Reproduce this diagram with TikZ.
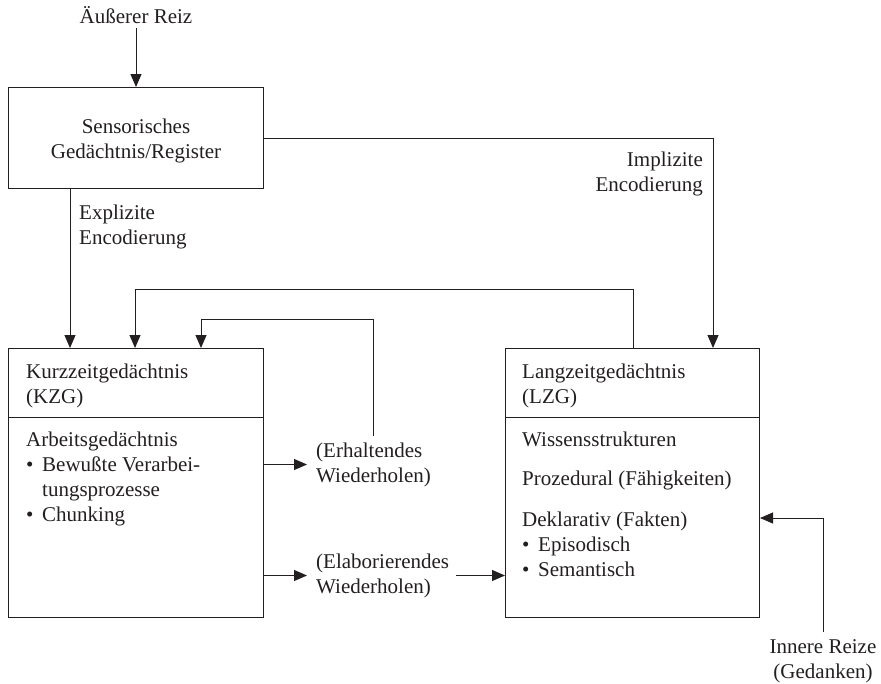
\documentclass[tikz,border=0pt]{standalone}
\usepackage{fontspec}
\setmainfont{Liberation Serif}
\usetikzlibrary{arrows.meta,calc}
\definecolor{ink}{RGB}{35,31,32}
% multi-line text whose baseline is that of its first line
\newcommand\stackL[1]{\begin{tabular}[t]{@{}l@{}}#1\end{tabular}}
\newcommand\stackC[1]{\begin{tabular}[t]{@{}c@{}}#1\end{tabular}}
\newcommand\stackR[1]{\begin{tabular}[t]{@{}r@{}}#1\end{tabular}}
\newcommand\bul{\makebox[16pt][l]{\textbullet}}
\begin{document}
\begin{tikzpicture}[x=1pt,y=-1pt,
  every node/.style={font=\fontsize{21}{25}\selectfont, text=ink},
  box/.style={draw=ink, line width=1pt, minimum width=#1, inner sep=0pt, anchor=north west},
  txt/.style={inner sep=3pt},
  arr/.style={draw=ink, line width=1pt, -{Triangle[length=13pt,width=11pt]}},
  ln/.style={draw=ink, line width=1pt}]
\useasboundingbox (0,0) rectangle (881,683);

% boxes
\node[box=255pt, minimum height=101pt] (sens) at (8,87) {};
\node[box=255pt, minimum height=269pt] (kzg) at (8,348) {};
\node[box=254pt, minimum height=269pt] (lzg) at (505,348) {};
\draw[ln] ($(kzg.north west)+(0,69)$) -- ($(kzg.north east)+(0,69)$);
\draw[ln] ($(lzg.north west)+(0,69)$) -- ($(lzg.north east)+(0,69)$);

% texts
\node[txt, anchor=base] (aeuss) at (136,23) {Äußerer Reiz};
\node[txt, anchor=base] (senstxt) at (136,133) {\stackC{Sensorisches\\Gedächtnis/Register}};
\node[txt, anchor=base west] (expl) at (76,219) {\stackL{Explizite\\Encodierung}};
\node[txt, anchor=base east] (impl) at (706,166) {\stackR{Implizite\\Encodierung}};

\node[txt, anchor=base west] (kzgtitle) at (23,378) {\stackL{Kurzzeitgedächtnis\\(KZG)}};
\node[txt, anchor=base west] (kzgbody) at (23,446) {\stackL{Arbeitsgedächtnis\\
  \bul Bewußte Verarbei-\\\hspace*{16pt}tungsprozesse\\\bul Chunking}};

\node[txt, anchor=base west] (lzgtitle) at (519,378) {\stackL{Langzeitgedächtnis\\(LZG)}};
\node[txt, anchor=base west] (wissen) at (519,446) {Wissensstrukturen};
\node[txt, anchor=base west] (proz) at (519,485) {Prozedural (Fähigkeiten)};
\node[txt, anchor=base west] (dekl) at (519,526) {\stackL{Deklarativ (Fakten)\\\bul Episodisch\\\bul Semantisch}};

\node[txt, anchor=base west] (erh) at (313,457) {\stackL{(Erhaltendes\\Wiederholen)}};
\node[txt, anchor=base west] (elab) at (313,568) {\stackL{(Elaborierendes\\Wiederholen)}};
\node[txt, anchor=base] (inn) at (823,653) {\stackC{Innere Reize\\(Gedanken)}};

% connectors
\draw[arr, shorten <=2pt] (aeuss.south) -- (sens.north -| aeuss.south);
\draw[arr] ($(sens.south west)+(62,0)$) -- ($(kzg.north west)+(62,0)$);
\draw[arr] ($(sens.north east)+(0,51)$) -| ($(lzg.north west)+(208,0)$);
\draw[arr] ($(lzg.north west)+(128,0)$) -- ++(0,-59) -| ($(kzg.north west)+(127,0)$);
\draw[arr] (erh.north) |- ($(kzg.north west)+(193,-29)$) -- ($(kzg.north west)+(193,0)$);
\draw[arr, shorten >=6pt] (kzg.east |- erh.west) -- (erh.west);
\draw[arr, shorten >=6pt] (kzg.east |- elab.west) -- (elab.west);
\draw[arr, shorten <=4pt] (elab.east) -- (lzg.west |- elab.east);
\draw[arr] (inn.north) |- ($(lzg.north east)+(0,170)$);
\end{tikzpicture}
\end{document}
